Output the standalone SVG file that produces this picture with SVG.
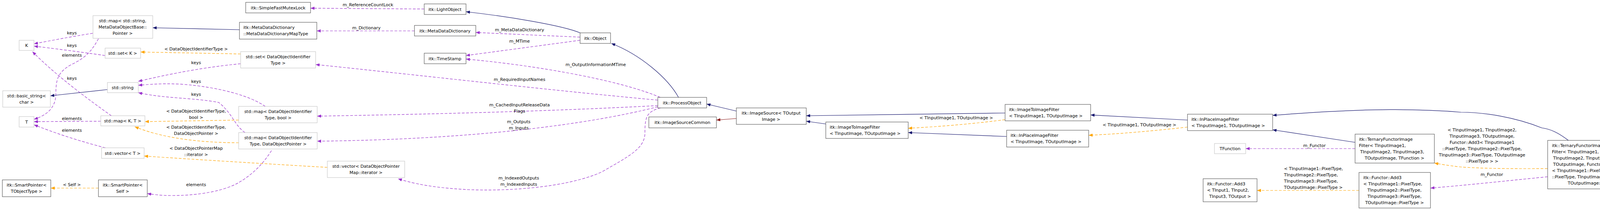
<svg xmlns="http://www.w3.org/2000/svg" width="4496" height="537" viewBox="0 0 4496 537">
<style>
text{font-family:"DejaVu Sans","Liberation Sans",sans-serif;font-size:11px;fill:#000}
.c{text-anchor:middle}
.n rect{fill:#fff;stroke:#404040;stroke-width:1}
.g rect{fill:#fff;stroke:#bfbfbf;stroke-width:1}
.sel rect{fill:#bfbfbf;stroke:#404040}
.e{fill:none;stroke-width:1.2}
.inh{stroke:#191970;marker-end:url(#aN)}
.prv{stroke:#8b1a1a;marker-end:url(#aR)}
.use{stroke:#9a32cd;stroke-dasharray:7,4;marker-end:url(#aP)}
.tpl{stroke:#ffa500;stroke-dasharray:7,4;marker-end:url(#aO)}
</style>
<defs>
<marker id="aN" markerUnits="userSpaceOnUse" markerWidth="11" markerHeight="8" refX="10" refY="4" orient="auto"><path d="M0,0L10,4L0,8z" fill="#191970"/></marker>
<marker id="aR" markerUnits="userSpaceOnUse" markerWidth="11" markerHeight="8" refX="10" refY="4" orient="auto"><path d="M0,0L10,4L0,8z" fill="#8b1a1a"/></marker>
<marker id="aP" markerUnits="userSpaceOnUse" markerWidth="11" markerHeight="8" refX="10" refY="4" orient="auto"><path d="M0,0L10,4L0,8z" fill="#9a32cd"/></marker>
<marker id="aO" markerUnits="userSpaceOnUse" markerWidth="11" markerHeight="8" refX="10" refY="4" orient="auto"><path d="M0,0L10,4L0,8z" fill="#ffa500"/></marker>
</defs>
<rect width="4496" height="537" fill="#fff"/>
<g id="connectors">
<path class="e use" d="M238,85 C180,94 130,104 87,112"/><text class="c" x="184" y="88">keys</text>
<path class="e use" d="M269,142 C200,132 130,123 87,118"/><text class="c" x="184" y="120">keys</text>
<path class="e use" d="M252,99 C235,130 220,148 179,167 C150,185 143,200 143,240 C143,275 120,295 87,305"/><text class="c" x="184" y="145">elements</text>
<path class="e use" d="M285,296 C220,250 140,190 83,132"/><text class="c" x="184" y="204">keys</text>
<path class="e use" d="M258,310 L87,311"/><text class="c" x="184" y="307">elements</text>
<path class="e use" d="M270,378 C200,360 140,340 87,319"/><text class="c" x="184" y="337">elements</text>
<path class="e inh" d="M275,229 L129,245"/>
<path class="e use" d="M616,163 C520,172 430,190 354,208"/><text class="c" x="502" y="164">keys</text>
<path class="e use" d="M679,272 C640,245 560,222 460,215 C410,213 380,216 354,218"/><text class="c" x="502" y="212">keys</text>
<path class="e use" d="M627,339 C600,320 595,290 560,262 C500,250 420,252 354,237"/><text class="c" x="502" y="245">keys</text>
<path class="e tpl" d="M611,307 L371,311"/><text class="c" x="502" y="288">&lt; DataObjectIdentifierType,</text><text class="c" x="502" y="304">bool &gt;</text>
<path class="e tpl" d="M611,365 C520,365 420,355 345,324"/><text class="c" x="502" y="329">&lt; DataObjectIdentifierType,</text><text class="c" x="502" y="345">DataObjectPointer &gt;</text>
<path class="e tpl" d="M838,428 C700,420 500,408 369,399"/><text class="c" x="502" y="383">&lt; DataObjectPointerMap</text><text class="c" x="502" y="399">::iterator &gt;</text>
<path class="e tpl" d="M616,138 L360,133"/><text class="c" x="502" y="129">&lt; DataObjectIdentifierType &gt;</text>
<path class="e use" d="M695,385 C670,425 640,450 611,467 C580,485 520,500 440,500 C410,500 390,497 377,495"/><text class="c" x="502" y="476">elements</text>
<path class="e tpl" d="M252,481 L130,481"/><text class="c" x="184" y="476">&lt; Self &gt;</text>
<path class="e inh" d="M613,76 L391,71"/>
<path class="e use" d="M1061,79 L811,79"/><text class="c" x="938" y="75">m_Dictionary</text>
<path class="e use" d="M1086,23 L795,21"/><text class="c" x="942" y="16">m_ReferenceCountLock</text>
<path class="e inh" d="M1485,84 C1440,65 1300,42 1193,30"/>
<path class="e use" d="M1485,95 L1218,83"/><text class="c" x="1330" y="80">m_MetaDataDictionary</text>
<path class="e use" d="M1485,103 L1193,142"/><text class="c" x="1330" y="109">m_MTime</text>
<path class="e use" d="M1690,249 C1600,210 1400,170 1193,151"/><text class="c" x="1525" y="169">m_OutputInformationMTime</text>
<path class="e inh" d="M1737,249 C1710,200 1640,140 1565,111"/>
<path class="e use" d="M1684,256 C1400,230 1100,195 808,165"/><text class="c" x="1330" y="207">m_RequiredInputNames</text>
<path class="e use" d="M1684,270 C1400,285 1100,292 812,297"/><text class="c" x="1330" y="272">m_CachedInputReleaseData</text><text class="c" x="1330" y="288">Flags</text>
<path class="e use" d="M1684,273 C1500,320 1200,357 812,361"/><text class="c" x="1328" y="315">m_Outputs</text><text class="c" x="1328" y="331">m_Inputs</text>
<path class="e use" d="M1691,276 C1655,285 1651,300 1651,340 C1651,380 1609,400 1540,440 C1450,480 1300,489 1200,485 C1100,480 1050,467 1019,457"/><text class="c" x="1328" y="459">m_IndexedOutputs</text><text class="c" x="1328" y="475">m_IndexedInputs</text>
<path class="e inh" d="M1885,284 L1809,266"/>
<path class="e prv" d="M1885,303 L1834,307"/>
<path class="e inh" d="M2114,317 L2064,310"/>
<path class="e inh" d="M2573,289 L2064,296"/>
<path class="e tpl" d="M2573,306 C2480,318 2400,324 2325,328"/><text class="c" x="2448" y="305">&lt; TInputImage1, TOutputImage &gt;</text>
<path class="e inh" d="M2577,349 L2325,339"/>
<path class="e tpl" d="M3040,325 C2950,335 2870,342 2787,346"/><text class="c" x="2917" y="323">&lt; TInputImage1, TOutputImage &gt;</text>
<path class="e inh" d="M3040,307 L2792,294"/>
<path class="e inh" d="M3469,364 L3258,332"/>
<path class="e use" d="M3469,380 L3189,380"/><text class="c" x="3365" y="376">m_Functor</text>
<path class="e tpl" d="M3479,487 L3218,487"/>
<text x="3287" y="435">&lt; TInputImage1::PixelType,</text><text x="3287" y="451">TInputImage2::PixelType,</text><text x="3287" y="467">TInputImage3::PixelType,</text><text x="3287" y="483">TOutputImage::PixelType &gt;</text>
<path class="e inh" d="M4015,359 C3990,340 3970,330 3947,327 C3880,300 3800,287 3740,287 C3600,275 3450,280 3258,295"/>
<path class="e tpl" d="M3962,431 C3850,432 3780,430 3740,427 C3720,425 3700,422 3672,417"/>
<text class="c" x="3794" y="336">&lt; TInputImage1, TInputImage2,</text><text class="c" x="3794" y="352">TInputImage3, TOutputImage,</text><text class="c" x="3794" y="368">Functor::Add3&lt; TInputImage1</text><text class="c" x="3794" y="384">::PixelType, TInputImage2::PixelType,</text><text class="c" x="3794" y="400">TInputImage3::PixelType, TOutputImage</text><text class="c" x="3794" y="416">::PixelType &gt; &gt;</text>
<path class="e use" d="M3962,452 C3860,462 3760,473 3662,481"/><text class="c" x="3819" y="450">m_Functor</text>
<path class="e inh" d="M4280,421 L4229,421"/>
</g>
<g id="K" class="g"><rect x="49" y="103" width="38" height="26"/><text class="c" x="68" y="120">K</text></g>
<g id="map_string" class="g"><rect x="238" y="40" width="153" height="58"/><text class="c" x="314" y="57">std::map&lt; std::string,</text><text class="c" x="314" y="73">MetaDataObjectBase::</text><text class="c" x="314" y="89">Pointer &gt;</text></g>
<g id="set_K" class="g"><rect x="269" y="123" width="91" height="26"/><text class="c" x="314" y="140">std::set&lt; K &gt;</text></g>
<g id="std_string" class="g"><rect x="275" y="211" width="79" height="26"/><text class="c" x="314" y="228">std::string</text></g>
<g id="basic_string" class="g"><rect x="7" y="232" width="122" height="42"/><text class="c" x="68" y="249">std::basic_string&lt;</text><text class="c" x="68" y="265">char &gt;</text></g>
<g id="T" class="g"><rect x="49" y="298" width="38" height="27"/><text class="c" x="68" y="316">T</text></g>
<g id="map_KT" class="g"><rect x="258" y="296" width="113" height="26"/><text class="c" x="314" y="313">std::map&lt; K, T &gt;</text></g>
<g id="vector_T" class="g"><rect x="260" y="378" width="109" height="27"/><text class="c" x="314" y="396">std::vector&lt; T &gt;</text></g>
<g id="SP_TObjectType" class="n"><rect x="6" y="460" width="124" height="43"/><text class="c" x="68" y="477">itk::SmartPointer&lt;</text><text class="c" x="68" y="493">TObjectType &gt;</text></g>
<g id="SP_Self" class="n"><rect x="252" y="460" width="125" height="43"/><text class="c" x="314" y="477">itk::SmartPointer&lt;</text><text class="c" x="314" y="493">Self &gt;</text></g>
<g id="SimpleFastMutexLock" class="n"><rect x="629" y="6" width="166" height="27"/><text class="c" x="712" y="24">itk::SimpleFastMutexLock</text></g>
<g id="MapType" class="n"><rect x="613" y="57" width="198" height="43"/><text x="623" y="74">itk::MetaDataDictionary</text><text x="623" y="90">::MetaDataDictionaryMapType</text></g>
<g id="set_DOIT" class="g"><rect x="616" y="132" width="192" height="42"/><text class="c" x="712" y="149">std::set&lt; DataObjectIdentifier</text><text class="c" x="712" y="165">Type &gt;</text></g>
<g id="map_DOIT_bool" class="g"><rect x="611" y="272" width="201" height="42"/><text class="c" x="712" y="289">std::map&lt; DataObjectIdentifier</text><text class="c" x="712" y="305">Type, bool &gt;</text></g>
<g id="map_DOIT_DOP" class="g"><rect x="611" y="339" width="201" height="42"/><text class="c" x="712" y="356">std::map&lt; DataObjectIdentifier</text><text class="c" x="712" y="372">Type, DataObjectPointer &gt;</text></g>
<g id="vector_DOPM" class="g"><rect x="838" y="412" width="198" height="42"/><text class="c" x="937" y="429">std::vector&lt; DataObjectPointer</text><text class="c" x="937" y="445">Map::iterator &gt;</text></g>
<g id="LightObject" class="n"><rect x="1086" y="10" width="107" height="27"/><text class="c" x="1139" y="28">itk::LightObject</text></g>
<g id="MetaDataDictionary" class="n"><rect x="1061" y="65" width="157" height="27"/><text class="c" x="1139" y="83">itk::MetaDataDictionary</text></g>
<g id="TimeStamp" class="n"><rect x="1086" y="136" width="107" height="27"/><text class="c" x="1139" y="154">itk::TimeStamp</text></g>
<g id="Object" class="n"><rect x="1485" y="84" width="78" height="27"/><text class="c" x="1524" y="102">itk::Object</text></g>
<g id="ProcessObject" class="n"><rect x="1684" y="249" width="125" height="27"/><text class="c" x="1746" y="267">itk::ProcessObject</text></g>
<g id="ImageSourceCommon" class="n"><rect x="1661" y="299" width="173" height="28"/><text class="c" x="1747" y="317">itk::ImageSourceCommon</text></g>
<g id="ImageSource" class="n"><rect x="1885" y="276" width="179" height="42"/><text class="c" x="1974" y="293">itk::ImageSource&lt; TOutput</text><text class="c" x="1974" y="309">Image &gt;</text></g>
<g id="ImageToImageFilter" class="n"><rect x="2114" y="312" width="211" height="42"/><text x="2124" y="329">itk::ImageToImageFilter</text><text x="2124" y="345">&lt; TInputImage, TOutputImage &gt;</text></g>
<g id="ImageToImageFilter1" class="n"><rect x="2573" y="267" width="219" height="42"/><text x="2583" y="284">itk::ImageToImageFilter</text><text x="2583" y="300">&lt; TInputImage1, TOutputImage &gt;</text></g>
<g id="InPlaceImageFilter" class="n"><rect x="2577" y="333" width="210" height="43"/><text x="2587" y="350">itk::InPlaceImageFilter</text><text x="2587" y="366">&lt; TInputImage, TOutputImage &gt;</text></g>
<g id="InPlaceImageFilter1" class="n"><rect x="3040" y="292" width="218" height="42"/><text x="3050" y="309">itk::InPlaceImageFilter</text><text x="3050" y="325">&lt; TInputImage1, TOutputImage &gt;</text></g>
<g id="TFunction" class="g"><rect x="3109" y="367" width="80" height="26"/><text class="c" x="3149" y="384">TFunction</text></g>
<g id="TernaryFunctorTFunction" class="n"><rect x="3469" y="343" width="203" height="74"/><text x="3479" y="360">itk::TernaryFunctorImage</text><text x="3479" y="376">Filter&lt; TInputImage1,</text><text x="3482" y="392">TInputImage2, TInputImage3,</text><text class="c" x="3570" y="408">TOutputImage, TFunction &gt;</text></g>
<g id="Add3_TInput" class="n"><rect x="3080" y="457" width="138" height="59"/><text x="3090" y="474">itk::Functor::Add3</text><text x="3090" y="490">&lt; TInput1, TInput2,</text><text class="c" x="3149" y="506">TInput3, TOutput &gt;</text></g>
<g id="Add3_PixelType" class="n"><rect x="3479" y="441" width="183" height="91"/><text x="3490" y="458">itk::Functor::Add3</text><text x="3490" y="474">&lt; TInputImage1::PixelType,</text><text class="c" x="3570" y="490">TInputImage2::PixelType,</text><text class="c" x="3570" y="506">TInputImage3::PixelType,</text><text class="c" x="3570" y="522">TOutputImage::PixelType &gt;</text></g>
<g id="TernaryFunctorAdd3" class="n"><rect x="3962" y="359" width="267" height="124"/><text x="3973" y="376">itk::TernaryFunctorImage</text><text x="3973" y="392">Filter&lt; TInputImage1,</text><text x="3976" y="408">TInputImage2, TInputImage3,</text><text x="3976" y="424">TOutputImage, Functor::Add3</text><text x="3973" y="440">&lt; TInputImage1::PixelType, TInputImage2</text><text x="3973" y="456">::PixelType, TInputImage3::PixelType,</text><text class="c" x="4095" y="472">TOutputImage::PixelType &gt; &gt;</text></g>
<g id="TernaryAddImageFilter" class="sel"><rect x="4280" y="392" width="211" height="59"/><text x="4291" y="409">itk::TernaryAddImageFilter</text><text x="4291" y="425">&lt; TInputImage1, TInputImage2,</text><text class="c" x="4385" y="441">TInputImage3, TOutputImage &gt;</text></g>
</svg>
